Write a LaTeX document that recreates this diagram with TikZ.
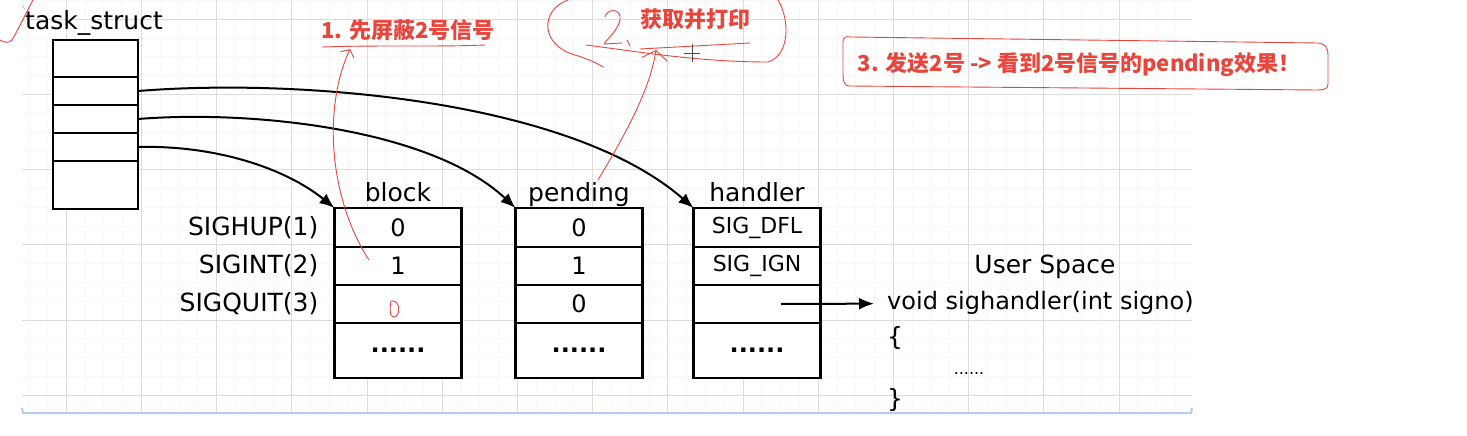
\documentclass[tikz,border=0pt]{standalone}
\usepackage{fontspec}
\setmainfont{DejaVu Sans}
\newfontfamily\cjk{Noto Sans CJK SC}
\usetikzlibrary{arrows.meta,positioning,calc}
\definecolor{annored}{HTML}{E8453C}
\definecolor{gridgray}{HTML}{DCDCDC}
\definecolor{paneblue}{HTML}{B4CBF2}

\begin{document}
\begin{tikzpicture}[x=1pt,y=-1pt,>=Latex,
  cell/.style={draw,fill=white,line width=2.2pt,outer sep=0pt,inner sep=0pt,
    minimum width=127pt,font=\fontsize{24}{28}\selectfont},
  tscell/.style={draw,fill=white,line width=2.2pt,outer sep=0pt,inner sep=0pt,minimum width=85pt},
  lbl/.style={font=\fontsize{25}{30}\selectfont,inner sep=0pt},
  note/.style={text=annored,font={\cjk\bfseries\fontsize{22}{26}\selectfont},inner sep=0pt},
  ink/.style={annored,line width=0.9pt,line cap=round,line join=round},
  ptr/.style={line width=2pt,-{Latex[length=15pt,width=12pt]}}]
  \useasboundingbox[fill=white] (0,0) rectangle (1467,436);

  % squared paper
  \foreach \gx in {28.4,47.2,...,1190} \draw[black!3] (\gx,0) -- (\gx,413);
  \foreach \gy in {0.2,19,...,413} \draw[black!3] (22,\gy) -- (1192,\gy);
  \foreach \gx in {66,141.2,...,1190} \draw[gridgray] (\gx,0) -- (\gx,413);
  \foreach \gy in {19,94.2,...,413} \draw[gridgray] (22,\gy) -- (1192,\gy);
  \draw[paneblue,line width=2pt] (22,408) -- (23,413) -- (1191,413) -- (1192,408);

  % task_struct
  \node[lbl,anchor=base west] (tslabel) at (25,30) {task\_struct};
  \node[tscell,minimum height=37pt] (t1) at (95.5,58.5) {};
  \node[tscell,minimum height=28pt,below=0pt of t1] (t2) {};
  \node[tscell,minimum height=28pt,below=0pt of t2] (t3) {};
  \node[tscell,minimum height=28pt,below=0pt of t3] (t4) {};
  \node[tscell,minimum height=48pt,below=0pt of t4] (t5) {};

  % block
  \node[cell,minimum height=39pt] (b1) at (398,227.5) {0};
  \node[cell,minimum height=38pt,below=0pt of b1] (b2) {1};
  \node[cell,minimum height=38pt,below=0pt of b2] (b3) {};
  \node[cell,minimum height=55pt,below=0pt of b3] (b4) {\textbf{......}};
  \node[lbl,above=7pt of b1.north,anchor=base] (btitle) {block};
  \node[lbl,left=16pt of b1] (sig1) {SIGHUP(1)};
  \node[lbl,left=16pt of b2] (sig2) {SIGINT(2)};
  \node[lbl,left=16pt of b3] (sig3) {SIGQUIT(3)};

  % pending
  \node[cell,minimum height=39pt,right=54pt of b1] (p1) {0};
  \node[cell,minimum height=38pt,below=0pt of p1] (p2) {1};
  \node[cell,minimum height=38pt,below=0pt of p2] (p3) {0};
  \node[cell,minimum height=55pt,below=0pt of p3] (p4) {\textbf{......}};
  \node[lbl,above=7pt of p1.north,anchor=base] (ptitle) {pending};

  % handler
  \node[cell,minimum height=39pt,right=51pt of p1] (h1) {\fontsize{22}{26}\selectfont SIG\_DFL};
  \node[cell,minimum height=38pt,below=0pt of h1] (h2) {\fontsize{22}{26}\selectfont SIG\_IGN};
  \node[cell,minimum height=38pt,below=0pt of h2] (h3) {};
  \node[cell,minimum height=55pt,below=0pt of h3] (h4) {\textbf{......}};
  \node[lbl,above=7pt of h1.north,anchor=base] (htitle) {handler};

  % user space
  \node[lbl] (us) at (1045,267) {User Space};
  \node[lbl,font=\fontsize{24}{28}\selectfont,anchor=west,inner xsep=13pt] (fn) at (874,303) {void sighandler(int signo)};
  \node[lbl,anchor=west] (lbrace) at (887,338) {\{};
  \node[font=\fontsize{16}{18}\selectfont,inner sep=0pt] (body) at (969,374) {......};
  \node[lbl,anchor=west] (rbrace) at (887,400) {\}};

  \draw[ptr] (t2.east) .. controls (300,78) and (570,100) .. (h1.north west);
  \draw[ptr] (t3.east) .. controls (250,110) and (430,128) .. (p1.north west);
  \draw[ptr] (t4.east) .. controls (215,145) and (285,168) .. (b1.north west);
  \draw[ptr] ([xshift=24pt]h3.center) -- (fn);

  % red notes
  \node[note] (n1) at (408,30) {1. 先屏蔽2号信号};
  \node[note] (n2) at (695,19) {获取并打印};
  \node[note] (n3) at (1079,65) {3. 发送2号 -> 看到2号信号的pending效果！};
  \coordinate (m1) at (369,260);
  \coordinate (m1tip) at (350,49);
  \coordinate (m2) at (598,180);
  \coordinate (m2tip) at (656,50);
  \draw[ink] (322,47) .. controls (380,45) and (440,47) .. (485,45);
  \draw[ink,-{Straight Barb[length=6pt,width=15pt]}] (m1) .. controls (330,200) and (322,110) .. (m1tip);
  \draw[ink] (640,49) -- (750,43);
  \draw[ink,-{Straight Barb[length=9pt,width=26pt]}] (m2) .. controls (625,135) and (650,90) .. (m2tip);
  \draw[ink] (568,0) .. controls (540,10) and (540,45) .. (575,55) .. controls (585,58) and (595,62) .. (603,67);
  \draw[ink] (586,45) .. controls (640,52) and (700,62) .. (768,62) .. controls (790,55) and (790,20) .. (778,0);
  \draw[ink] (605,17) .. controls (607,8) and (622,8) .. (620,20) .. controls (618,30) and (608,38) .. (604,44) -- (622,43);
  \draw[ink] (627,40) -- (630,46);
  \draw[ink] (850,86) .. controls (843,86) and (843,80) .. (843,70) -- (843,42) .. controls (843,37) and (846,36) .. (851,37)
    -- (1318,43) .. controls (1326,44) and (1328,48) .. (1328,55) -- (1328,84) .. controls (1328,89) and (1324,90) .. (1318,90) -- cycle;
  \draw[ink] (391,301) .. controls (401,299) and (401,318) .. (393,317) .. controls (389,316) and (390,306) .. (391,301);
  \draw[ink] (33,0) .. controls (25,15) and (18,30) .. (12,40) .. controls (8,44) and (3,42) .. (0,40);
  \draw[paneblue,line width=0.8pt] (22,4) -- (25,10);

  % mouse cursor
  \draw[black!70,line width=0.8pt] (684,53) -- (700,53) (692,44) -- (692,62);
\end{tikzpicture}
\end{document}
